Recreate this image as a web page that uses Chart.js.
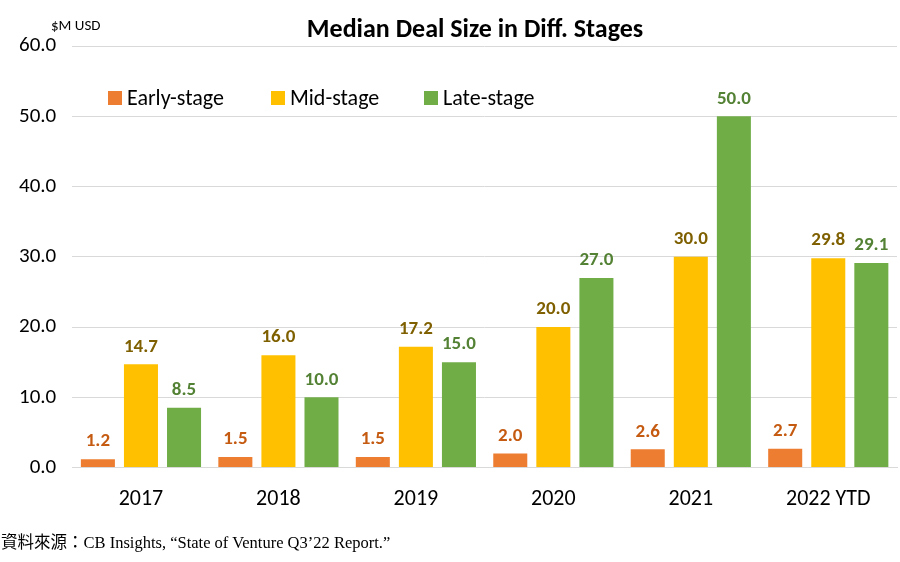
<!DOCTYPE html>
<html>
<head>
<meta charset="utf-8">
<script src="https://cdn.jsdelivr.net/npm/chart.js@4"></script>
<style>
  body { margin: 0; background: #fff; }
  #wrap { position: relative; width: 900px; height: 562px; }
  #source {
    position: absolute; left: 1px; top: 529px;
    font-family: "Liberation Serif", "Noto Sans CJK TC", serif;
    font-size: 16.5px; color: #000; white-space: nowrap;
  }
</style>
</head>
<body>
<div id="wrap">
  <canvas id="chart" width="900" height="562"></canvas>
  <div id="source">資料來源：CB Insights, “State of Venture Q3’22 Report.”</div>
</div>
<script>
const years = ["2017", "2018", "2019", "2020", "2021", "2022 YTD"];
const early = [1.2, 1.5, 1.5, 2.0, 2.6, 2.7];
const mid = [14.7, 16.0, 17.2, 20.0, 30.0, 29.8];
const late = [8.5, 10.0, 15.0, 27.0, 50.0, 29.1];
const seriesNames = ["Early-stage", "Mid-stage", "Late-stage"];
const barColors = ["#ED7D31", "#FFC000", "#70AD47"];
const labelColors = ["#C55A11", "#7F6000", "#548235"];

const FONT = "Carlito, Calibri, Lato, sans-serif";

const overlay = {
  id: "overlay",
  afterDatasetsDraw(chart) {
    const ctx = chart.ctx;
    ctx.save();
    // value labels
    ctx.font = "bold 19px " + FONT;
    ctx.textAlign = "center";
    ctx.textBaseline = "bottom";
    chart.data.datasets.forEach((ds, i) => {
      chart.getDatasetMeta(i).data.forEach((bar, j) => {
        ctx.fillStyle = labelColors[i];
        ctx.fillText(ds.data[j].toFixed(1), bar.x, bar.y - 8);
      });
    });
    // title
    ctx.fillStyle = "#000";
    ctx.font = "bold 26px " + FONT;
    ctx.textBaseline = "middle";
    ctx.fillText("Median Deal Size in Diff. Stages", 475, 30);
    ctx.font = "15px " + FONT;
    ctx.textAlign = "left";
    ctx.fillText("$M USD", 51, 26);
    // legend inside plot area
    const lx = [108, 271, 424];
    ctx.font = "22px " + FONT;
    chart.data.datasets.forEach((ds, i) => {
      ctx.fillStyle = barColors[i];
      ctx.fillRect(lx[i], 91, 14, 14);
      ctx.fillStyle = "#000";
      ctx.fillText(ds.label, lx[i] + 19, 99);
    });
    ctx.restore();
  },
};

new Chart(document.getElementById("chart"), {
  type: "bar",
  data: {
    labels: years,
    datasets: [early, mid, late].map((d, i) => ({
      label: seriesNames[i],
      data: d,
      backgroundColor: barColors[i],
      categoryPercentage: 0.94,
      barPercentage: 0.79,
    })),
  },
  options: {
    responsive: false,
    animation: false,
    layout: { padding: { top: 46, left: 3, right: 3, bottom: 38 } },
    plugins: {
      legend: { display: false },
      tooltip: { enabled: false },
    },
    scales: {
      x: {
        grid: { display: false },
        border: { color: "#D9D9D9" },
        ticks: { color: "#000", padding: 11, font: { family: FONT, size: 22 } },
      },
      y: {
        min: 0,
        max: 60,
        border: { display: false },
        grid: { color: "#D9D9D9", drawTicks: false },
        ticks: {
          stepSize: 10,
          color: "#000",
          padding: 16,
          font: { family: FONT, size: 21 },
          callback: (v) => v.toFixed(1),
        },
      },
    },
  },
  plugins: [overlay],
});
</script>
</body>
</html>
